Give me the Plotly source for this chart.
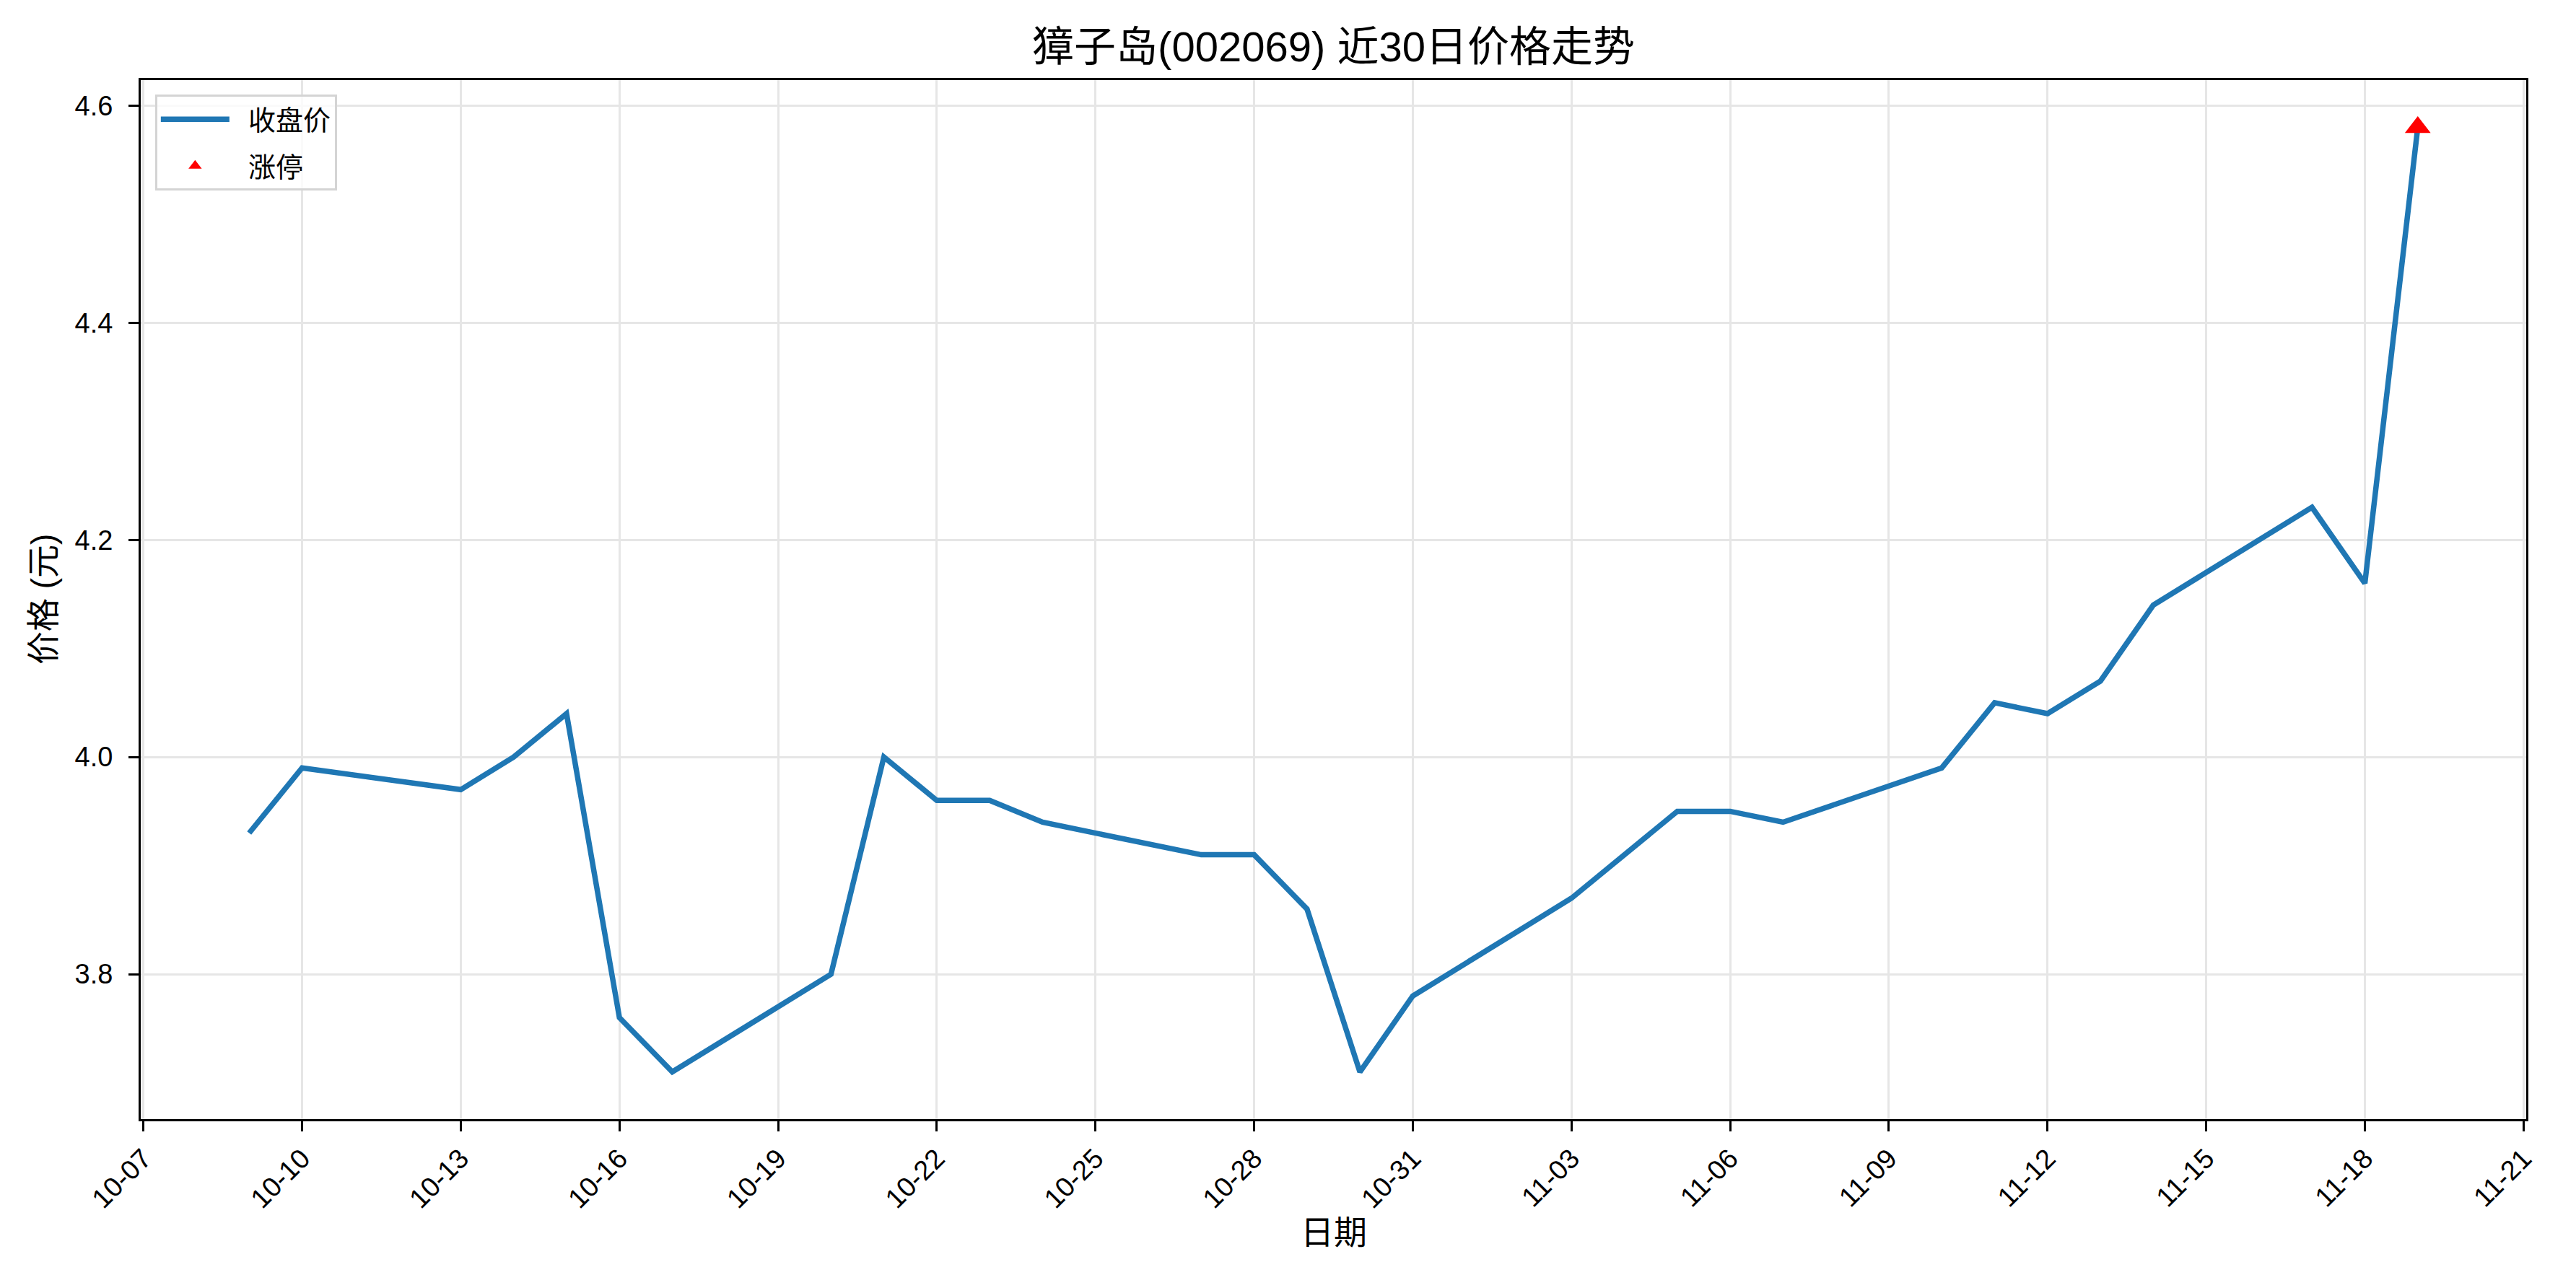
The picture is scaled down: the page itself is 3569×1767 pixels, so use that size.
import plotly.graph_objects as go
import pandas as pd

dates = ["2025-10-09", "2025-10-10", "2025-10-13", "2025-10-14", "2025-10-15",
         "2025-10-16", "2025-10-17", "2025-10-20", "2025-10-21", "2025-10-22",
         "2025-10-23", "2025-10-24", "2025-10-27", "2025-10-28", "2025-10-29",
         "2025-10-30", "2025-10-31", "2025-11-03", "2025-11-04", "2025-11-05",
         "2025-11-06", "2025-11-07", "2025-11-10", "2025-11-11", "2025-11-12",
         "2025-11-13", "2025-11-14", "2025-11-17", "2025-11-18", "2025-11-19"]
close = [3.93, 3.99, 3.97, 4.00, 4.04,
         3.76, 3.71, 3.80, 4.00, 3.96,
         3.96, 3.94, 3.91, 3.91, 3.86,
         3.71, 3.78, 3.87, 3.91, 3.95,
         3.95, 3.94, 3.99, 4.05, 4.04,
         4.07, 4.14, 4.23, 4.16, 4.58]
limit_up_dates = ["2025-11-19"]
limit_up_prices = [4.58]

x_tick_vals = ["2025-10-07", "2025-10-10", "2025-10-13", "2025-10-16", "2025-10-19",
               "2025-10-22", "2025-10-25", "2025-10-28", "2025-10-31", "2025-11-03",
               "2025-11-06", "2025-11-09", "2025-11-12", "2025-11-15", "2025-11-18",
               "2025-11-21"]
x_tick_text = ["10-07", "10-10", "10-13", "10-16", "10-19", "10-22", "10-25", "10-28",
               "10-31", "11-03", "11-06", "11-09", "11-12", "11-15", "11-18", "11-21"]
y_tick_vals = [3.8, 4.0, 4.2, 4.4, 4.6]
y_tick_text = ["3.8", "4.0", "4.2", "4.4", "4.6"]

title_text = "獐子岛(002069) 近30日价格走势"
x_label = "日期"
y_label = "价格 (元)"
series_names = ["收盘价", "涨停"]

FONT = "Liberation Sans, Arial, Noto Sans CJK SC, sans-serif"
PAD = "\u00a0\u00a0"  # small visual gap between legend symbol and text

# matplotlib-like 5% margins
d = pd.to_datetime(dates)
span = d.max() - d.min()
x_range = [d.min() - 0.05 * span, d.max() + 0.05 * span]
ymin, ymax = min(close), max(close)
ypad = 0.05 * (ymax - ymin)
y_range = [ymin - ypad, ymax + ypad]

fig = go.Figure()
fig.add_trace(go.Scatter(
    x=dates, y=close, mode="lines", name=PAD + series_names[0], legendgroup="a",
    line=dict(color="#1f77b4", width=7.5),
))
fig.add_trace(go.Scatter(
    x=limit_up_dates, y=limit_up_prices, mode="markers", name=PAD + series_names[1],
    legendgroup="b",
    marker=dict(symbol="triangle-up", color="#ff0000", size=31, line=dict(width=0)),
))

W, H = 3569, 1767
L, R, T, B = 187, 77, 103, 224

axis_common = dict(
    showline=True, linecolor="black", linewidth=3, mirror=True,
    ticks="outside", ticklen=14, tickwidth=3, tickcolor="black",
    showgrid=True, gridcolor="#e6e6e6", gridwidth=2.5,
    zeroline=False,
    tickfont=dict(family=FONT, size=38, color="black"),
)

fig.update_layout(
    width=W, height=H,
    margin=dict(l=L, r=R, t=T, b=B, autoexpand=False),
    paper_bgcolor="white", plot_bgcolor="white",
    font=dict(family=FONT, color="black"),
    title=dict(text=title_text, x=(L + (W - L - R) / 2) / W, xanchor="center",
               y=1 - 57 / H, yanchor="middle", yref="container",
               font=dict(family=FONT, size=58, color="black")),
    showlegend=True,
    legend=dict(
        x=0.006, y=0.986, xanchor="left", yanchor="top",
        bgcolor="rgba(255,255,255,0.8)", bordercolor="#d4d4d4", borderwidth=3,
        font=dict(family=FONT, size=38, color="black"),
        itemwidth=95, tracegroupgap=12, itemsizing="trace",
    ),
    xaxis=dict(range=x_range, type="date", tickvals=x_tick_vals, ticktext=x_tick_text,
               tickangle=-45, **axis_common),
    yaxis=dict(range=y_range, tickvals=y_tick_vals, ticktext=y_tick_text,
               ticklabelstandoff=14, **axis_common),
    annotations=[
        dict(text=x_label, xref="paper", yref="paper", x=0.5, y=0,
             yshift=-(1700 - (H - B)), xanchor="center", yanchor="middle",
             showarrow=False, font=dict(family=FONT, size=46, color="black")),
        dict(text=y_label, xref="paper", yref="paper", x=0, y=0.5,
             xshift=-(L - 52), xanchor="center", yanchor="middle", textangle=-90,
             showarrow=False, font=dict(family=FONT, size=46, color="black")),
    ],
)

fig.write_html("out.html")
